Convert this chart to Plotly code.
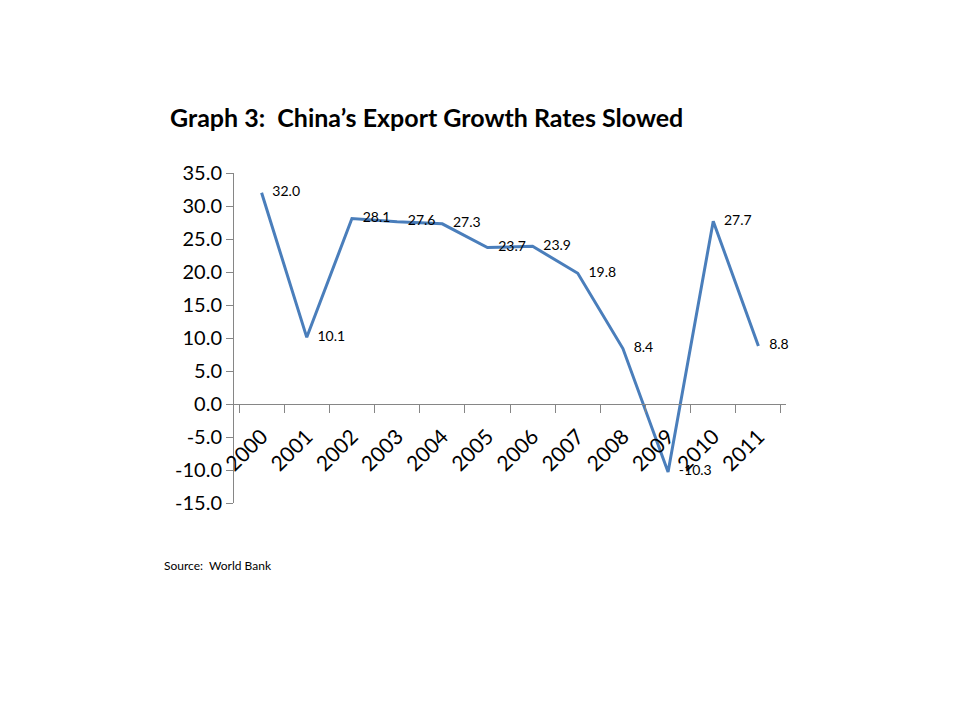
import plotly.graph_objects as go

years = ["2000", "2001", "2002", "2003", "2004", "2005",
         "2006", "2007", "2008", "2009", "2010", "2011"]
growth = [32.0, 10.1, 28.1, 27.6, 27.3, 23.7, 23.9, 19.8, 8.4, -10.3, 27.7, 8.8]
y_ticks = [-15, -10, -5, 0, 5, 10, 15, 20, 25, 30, 35]

FONT = "Lato"
AXIS_GREY = "#868686"

# the page adds an 8px body margin, so pixel targets are shifted by -8
OFF = 8
y_min, y_max = -15, 35
zero_pos = (0 - y_min) / (y_max - y_min)

fig = go.Figure()
fig.add_trace(go.Scatter(
    x=years,
    y=growth,
    mode="lines+text",
    line=dict(color="#4A7EBB", width=3),
    text=["   %.1f" % v for v in growth],
    textposition="middle right",
    textfont=dict(family=FONT, size=14, color="black"),
    cliponaxis=False,
    hoverinfo="x+y",
))

fig.update_layout(
    width=960,
    height=720,
    margin=dict(l=234 - OFF, r=174 + OFF, t=173 - OFF, b=217 + OFF,
                autoexpand=False),
    plot_bgcolor="white",
    paper_bgcolor="white",
    showlegend=False,
    font=dict(family=FONT, color="black"),
    title=dict(
        text="<b>Graph 3:  China’s Export Growth Rates Slowed</b>",
        font=dict(family=FONT, size=25, color="black"),
        xref="container", yref="container",
        x=(170 - OFF) / 960, xanchor="left",
        y=1 - (118 - OFF) / 720, yanchor="middle",
    ),
    xaxis=dict(
        type="category",
        anchor="free",
        position=zero_pos,
        automargin=False,
        showline=True,
        linecolor=AXIS_GREY,
        linewidth=1,
        ticks="outside",
        tickson="boundaries",
        ticklen=8,
        tickcolor=AXIS_GREY,
        tickangle=-45,
        ticklabelstandoff=11,
        tickfont=dict(family=FONT, size=21, color="black"),
        showgrid=False,
        zeroline=False,
    ),
    yaxis=dict(
        range=[y_min, y_max],
        tickvals=y_ticks,
        ticktext=["%.1f" % v for v in y_ticks],
        automargin=False,
        showline=True,
        linecolor=AXIS_GREY,
        linewidth=1,
        ticks="outside",
        ticklen=7,
        tickcolor=AXIS_GREY,
        tickfont=dict(family=FONT, size=20, color="black"),
        showgrid=False,
        zeroline=False,
    ),
)

fig.add_annotation(
    text="Source:  World Bank",
    xref="paper", yref="paper",
    x=(162 - 234) / (786 - 234), y=(503 - 565) / 330,
    xanchor="left", yanchor="middle",
    showarrow=False,
    font=dict(family=FONT, size=12, color="black"),
)

fig.write_html("out.html")
